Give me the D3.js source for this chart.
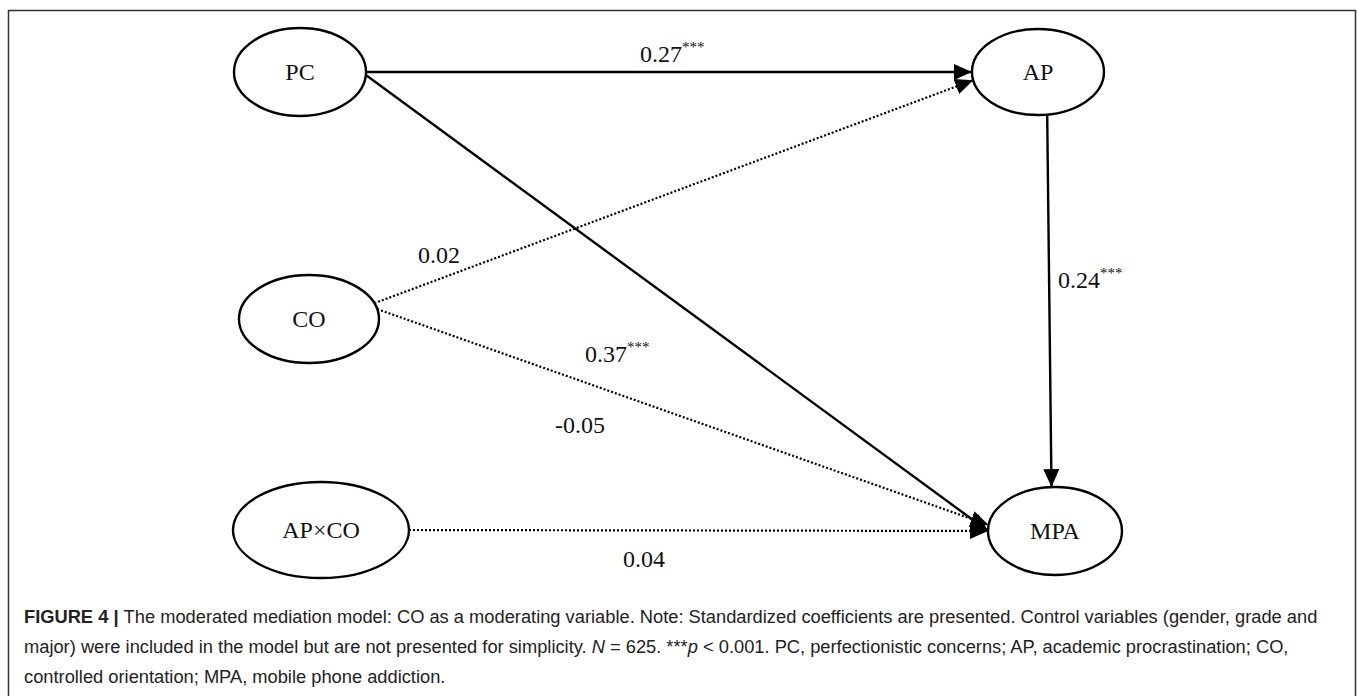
<!DOCTYPE html>
<html>
<head>
<meta charset="utf-8">
<script src="https://cdn.jsdelivr.net/npm/d3@7"></script>
<style>
  body { margin: 0; background: #fff; }
  svg { display: block; }
</style>
</head>
<body>
<div id="chart"></div>
<script>
// variables in the model
const nodeNames = ["PC", "AP", "CO", "AP×CO", "MPA"];

// paths and their standardized coefficients
const pathFrom = ["PC", "PC", "CO", "CO", "AP×CO", "AP"];
const pathTo = ["AP", "MPA", "AP", "MPA", "MPA", "MPA"];
const pathCoef = ["0.27", "0.37", "0.02", "-0.05", "0.04", "0.24"];
const pathSig = ["***", "***", "", "", "", "***"];

const captionLines = [
  [{t: "FIGURE 4 | ", b: true}, {t: "The moderated mediation model: CO as a moderating variable. Note: Standardized coefficients are presented. Control variables (gender, grade and"}],
  [{t: "major) were included in the model but are not presented for simplicity. "}, {t: "N", i: true}, {t: " = 625. ***"}, {t: "p", i: true}, {t: " < 0.001. PC, perfectionistic concerns; AP, academic procrastination; CO,"}],
  [{t: "controlled orientation; MPA, mobile phone addiction."}]
];

// layout (kept apart from the data)
const width = 1358, height = 696;
const layout = {
  "PC":    {x: 300, y: 72, rx: 66, ry: 44},
  "AP":    {x: 1038, y: 72, rx: 66, ry: 43},
  "CO":    {x: 309, y: 319, rx: 70, ry: 44},
  "AP×CO": {x: 321, y: 530, rx: 88, ry: 48},
  "MPA":   {x: 1055, y: 531, rx: 67, ry: 44}
};
// port angles (deg) on the ellipses, dotted flag, label placement
const pathStyle = [
  {a0: 0,  a1: 180,   dotted: false, lx: 640, ly: 62},
  {a0: 4,  a1: 180,   dotted: false, lx: 585, ly: 362},
  {a0: -21, a1: 169,  dotted: true,  lx: 418, ly: 263},
  {a0: -13, a1: 188,  dotted: true,  lx: 555, ly: 433},
  {a0: 0,  a1: 180,   dotted: true,  lx: 623, ly: 567},
  {a0: 82, a1: -93,   dotted: false, lx: 1058, ly: 288}
];

const svg = d3.select("#chart").append("svg")
  .attr("width", width).attr("height", height);

// frame
svg.append("path")
  .attr("d", `M8.5,${height + 2} V10.5 H1355.5 V${height + 2}`)
  .attr("fill", "none").attr("stroke", "#333").attr("stroke-width", 1.5);

svg.append("defs").append("marker")
  .attr("id", "arrow")
  .attr("markerUnits", "userSpaceOnUse")
  .attr("viewBox", "0 0 18 16")
  .attr("refX", 18).attr("refY", 8)
  .attr("markerWidth", 18).attr("markerHeight", 16)
  .attr("orient", "auto")
  .append("path").attr("d", "M0,0 L18,8 L0,16 Z").attr("fill", "#000");

const port = (n, a) => {
  const p = layout[n], r = a * Math.PI / 180;
  return [p.x + p.rx * Math.cos(r), p.y + p.ry * Math.sin(r)];
};

const paths = pathFrom.map((f, i) => ({
  from: f, to: pathTo[i], coef: pathCoef[i], sig: pathSig[i], ...pathStyle[i]
}));

const line = d3.line();

svg.append("g").selectAll("path")
  .data(paths)
  .join("path")
  .attr("d", d => line([port(d.from, d.a0), port(d.to, d.a1)]))
  .attr("fill", "none")
  .attr("stroke", "#000")
  .attr("stroke-width", d => d.dotted ? 2.2 : 2.4)
  .attr("stroke-dasharray", d => d.dotted ? "2,2" : null)
  .attr("marker-end", "url(#arrow)");

// nodes
const node = svg.append("g").selectAll("g")
  .data(nodeNames)
  .join("g")
  .attr("transform", d => `translate(${layout[d].x},${layout[d].y})`);

node.append("ellipse")
  .attr("rx", d => layout[d].rx).attr("ry", d => layout[d].ry)
  .attr("fill", "#fff").attr("stroke", "#000").attr("stroke-width", 2.4);

node.append("text")
  .attr("text-anchor", "middle").attr("dy", "0.35em")
  .attr("font-family", "'Liberation Serif', 'DejaVu Serif', serif")
  .attr("font-size", 24).attr("fill", "#111")
  .text(d => d);

// coefficient labels
const lab = svg.append("g").selectAll("text")
  .data(paths)
  .join("text")
  .attr("x", d => d.lx).attr("y", d => d.ly)
  .attr("font-family", "'Liberation Serif', 'DejaVu Serif', serif")
  .attr("font-size", 24).attr("fill", "#111");
lab.append("tspan").text(d => d.coef);
lab.append("tspan").attr("dy", -10).attr("font-size", 15).text(d => d.sig);

// caption
const cap = svg.append("g")
  .attr("font-family", "'Liberation Sans', Arial, sans-serif")
  .attr("font-size", 18.3).attr("fill", "#222");
captionLines.forEach((parts, i) => {
  const t = cap.append("text").attr("x", 24).attr("y", 623 + i * 30);
  parts.forEach(p => {
    t.append("tspan")
      .attr("font-weight", p.b ? "bold" : null)
      .attr("font-style", p.i ? "italic" : null)
      .text(p.t);
  });
});
</script>
</body>
</html>
